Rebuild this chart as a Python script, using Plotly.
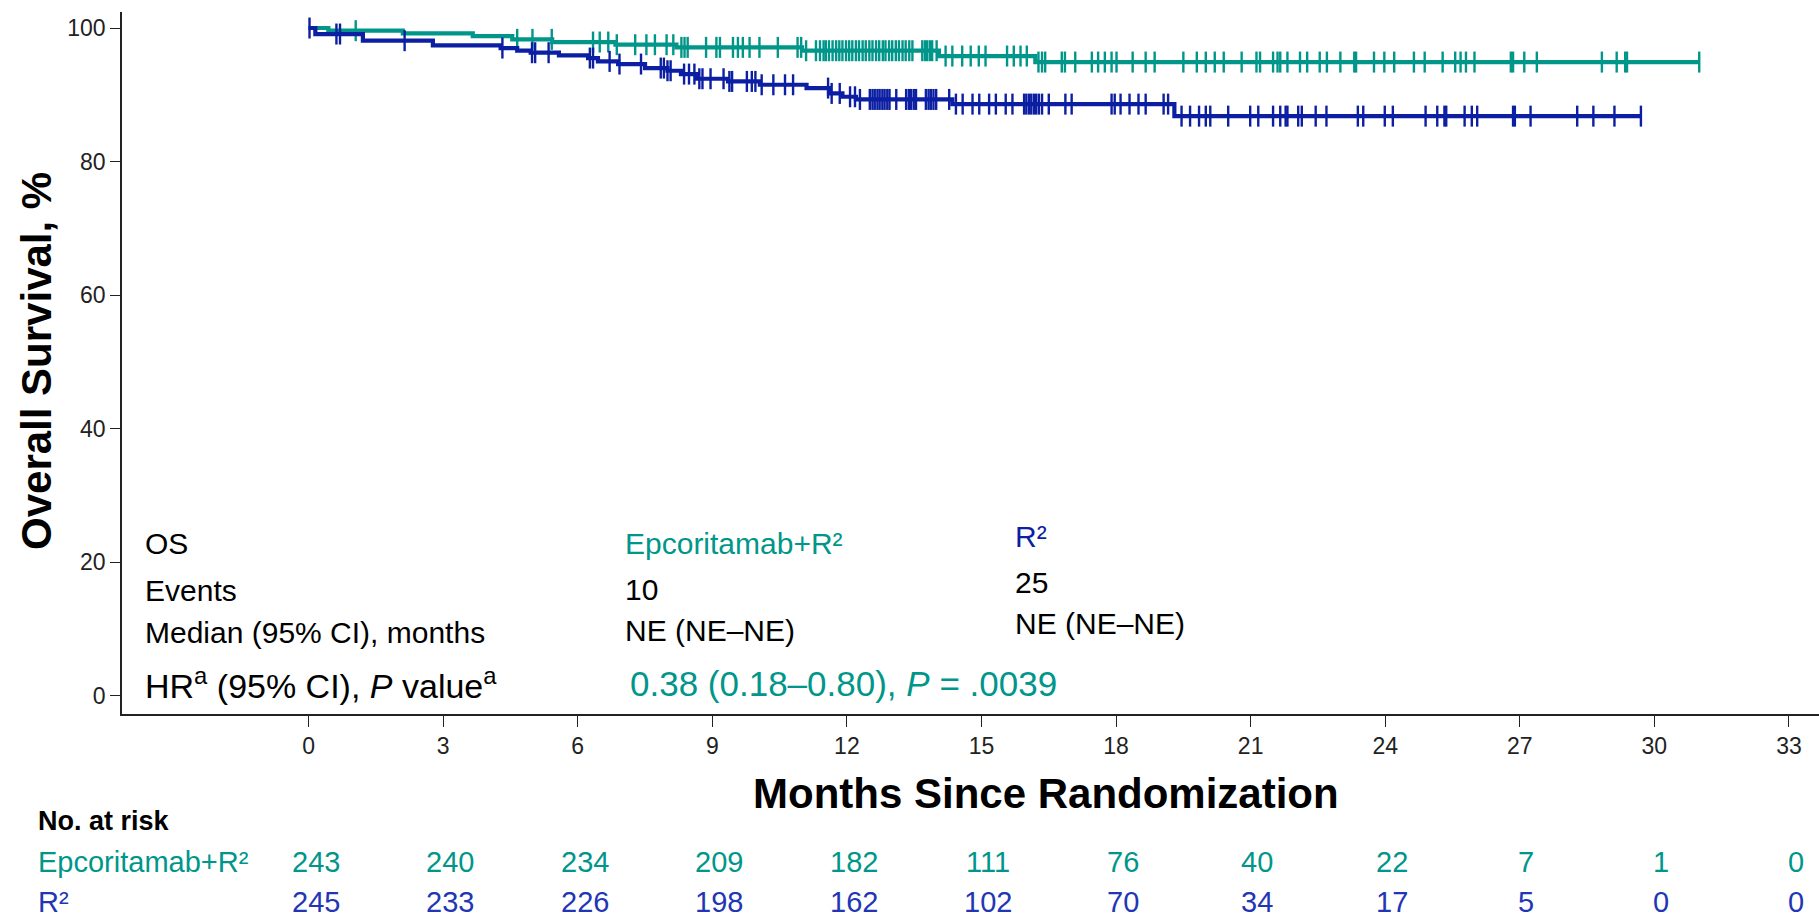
import plotly.graph_objects as go

# ---------------- data ----------------
# Kaplan-Meier step points (time in months, survival %)
teal_event_times = [0.44, 2.1, 3.66, 4.54, 5.43, 6.84, 8.2, 11.0, 14.05, 16.2]
teal_event_surv = [99.6, 99.2, 98.8, 98.3, 97.9, 97.5, 97.1, 96.6, 95.8, 94.9]
teal_end = 31.0

blue_event_times = [0.15, 1.21, 2.77, 4.28, 4.65, 4.95, 5.58, 6.23, 6.45, 6.9, 7.5, 8.0,
                    8.3, 8.66, 9.35, 10.06, 11.1, 11.6, 11.9, 12.2, 14.35, 19.3]
blue_event_surv = [99.1, 98.1, 97.4, 97.0, 96.6, 96.3, 95.9, 95.5, 95.0, 94.6, 94.0, 93.6,
                   93.1, 92.4, 92.0, 91.5, 91.0, 90.2, 89.7, 89.3, 88.6, 86.8]
blue_end = 29.7

teal_censor = [1.05, 4.65, 4.99, 5.42, 6.34, 6.49, 6.68, 6.87, 7.28, 7.53, 7.72, 7.98, 8.13,
               8.31, 8.38, 8.45, 8.86, 9.09, 9.17, 9.46, 9.57, 9.68, 9.83, 10.05, 10.46, 10.9,
               10.98, 11.09, 11.31, 11.4, 11.48, 11.53, 11.6, 11.68, 11.76, 11.83, 11.9, 11.98,
               12.05, 12.12, 12.2, 12.27, 12.35, 12.42, 12.5, 12.57, 12.65, 12.72, 12.8, 12.86,
               12.94, 13.01, 13.09, 13.16, 13.24, 13.31, 13.39, 13.46, 13.68, 13.74, 13.79,
               13.85, 13.9, 14.0, 14.2, 14.35, 14.57, 14.76, 14.94, 15.09, 15.57, 15.72, 15.87,
               16.01, 16.27, 16.35, 16.42, 16.79, 16.86, 17.09, 17.46, 17.6, 17.75, 17.9, 18.01,
               18.37, 18.66, 18.86, 19.5, 19.8, 20.0, 20.2, 20.4, 20.8, 21.13, 21.21, 21.5, 21.6,
               21.66, 21.82, 22.1, 22.26, 22.54, 22.7, 23.0, 23.31, 23.35, 23.75, 23.98, 24.2,
               24.64, 24.88, 25.28, 25.56, 25.68, 25.8, 25.99, 26.8, 26.85, 27.1, 27.38, 28.83,
               29.16, 29.35, 29.39, 31.0]

blue_censor = [0.02, 0.62, 0.70, 2.14, 4.32, 4.98, 5.05, 5.35, 6.27, 6.34, 6.71, 6.93, 7.41,
               7.85, 7.92, 8.0, 8.07, 8.37, 8.48, 8.6, 8.71, 8.78, 8.96, 9.25, 9.38, 9.44, 9.77,
               9.88, 9.96, 10.1, 10.36, 10.62, 10.8, 11.58, 11.66, 11.84, 12.07, 12.18, 12.29,
               12.51, 12.57, 12.62, 12.68, 12.73, 12.79, 12.84, 12.9, 12.95, 13.1, 13.32, 13.38,
               13.43, 13.49, 13.54, 13.76, 13.82, 13.87, 13.93, 13.99, 14.28, 14.43, 14.58, 14.8,
               14.95, 15.17, 15.32, 15.54, 15.69, 15.95, 16.0, 16.06, 16.11, 16.17, 16.22, 16.28,
               16.35, 16.5, 16.87, 17.01, 17.9, 17.97, 18.1, 18.3, 18.5, 18.66, 19.06, 19.16,
               19.46, 19.65, 19.85, 20.0, 20.1, 20.5, 20.99, 21.17, 21.5, 21.66, 21.78, 21.82,
               22.06, 22.14, 22.45, 22.69, 23.39, 23.51, 23.99, 24.17, 24.9, 25.16, 25.32, 25.36,
               25.77, 25.93, 26.05, 26.85, 26.89, 27.24, 28.28, 28.64, 29.11, 29.7]

risk_times = [0, 3, 6, 9, 12, 15, 18, 21, 24, 27, 30, 33]
risk_teal = [243, 240, 234, 209, 182, 111, 76, 40, 22, 7, 1, 0]
risk_blue = [245, 233, 226, 198, 162, 102, 70, 34, 17, 5, 0, 0]

y_ticks = [0, 20, 40, 60, 80, 100]
x_ticks = [0, 3, 6, 9, 12, 15, 18, 21, 24, 27, 30, 33]

TEAL = "#00968A"
BLUE = "#0C1FA3"
BLUE_TXT = "#2236B5"
FONT = "Arial, Liberation Sans, sans-serif"

# ---------------- geometry helpers ----------------
W, H = 1819, 919
ML, MR, MT, MB = 122, 0, 12, 205
PW, PH = W - ML - MR, H - MT - MB


def px_x(px):
    return (px - ML) / PW


def px_y(py):
    return (H - MB - py) / PH


def surv_at(t, times, surv):
    s = 100.0
    for tt, ss in zip(times, surv):
        if tt <= t:
            s = ss
    return s


fig = go.Figure()

for times, surv, end, cens, col in [
    (teal_event_times, teal_event_surv, teal_end, teal_censor, TEAL),
    (blue_event_times, blue_event_surv, blue_end, blue_censor, BLUE),
]:
    xs = [0] + times + [end]
    ys = [100] + surv + [surv[-1]]
    fig.add_trace(go.Scatter(x=xs, y=ys, mode="lines", line=dict(color=col, width=4.2, shape="hv"),
                             showlegend=False, hoverinfo="skip"))
    fig.add_trace(go.Scatter(x=cens, y=[surv_at(c, times, surv) for c in cens], mode="markers",
                             marker=dict(symbol="line-ns", size=15, line=dict(color=col, width=2.4)),
                             showlegend=False, hoverinfo="skip"))

fig.update_xaxes(range=[-4.16, 33.67], tickmode="array", tickvals=x_ticks,
                 ticktext=[str(v) for v in x_ticks], ticks="outside", ticklen=11, tickwidth=1.2,
                 tickcolor="#222", showline=True, linecolor="#222", linewidth=1.5, showgrid=False,
                 zeroline=False, tickfont=dict(family=FONT, size=23, color="#222"))
fig.update_yaxes(range=[-2.77, 102.4], tickmode="array", tickvals=y_ticks,
                 ticktext=[str(v) for v in y_ticks], ticks="outside", ticklen=10, tickwidth=1.2,
                 tickcolor="#222", showline=True, linecolor="#222", linewidth=1.5, showgrid=False,
                 zeroline=False, tickfont=dict(family=FONT, size=23, color="#222"))

ann = []


def add_text(text, px, py, size, color="black", xanchor="left", bold=False, angle=0):
    if bold:
        text = "<b>" + text + "</b>"
    ann.append(dict(text=text, x=px_x(px), y=px_y(py), xref="paper", yref="paper",
                    xanchor=xanchor, yanchor="middle", showarrow=False, textangle=angle,
                    font=dict(family=FONT, size=size, color=color)))


# Inset table
add_text("OS", 143, 543, 30)
add_text("Events", 143, 590, 30)
add_text("Median (95% CI), months", 143, 632, 30)
add_text("HR<sup>a</sup> (95% CI), <i>P</i> value<sup>a</sup>", 143, 683, 34)
add_text("Epcoritamab+R\u00b2", 623, 543, 30, TEAL)
add_text("10", 623, 589, 30)
add_text("NE (NE\u2013NE)", 623, 630, 30)
add_text("0.38 (0.18\u20130.80), <i>P</i> = .0039", 628, 683, 35, TEAL)
add_text("R\u00b2", 1013, 536, 30, BLUE)
add_text("25", 1013, 582, 30)
add_text("NE (NE\u2013NE)", 1013, 623, 30)

# Axis titles
add_text("Months Since Randomization", 1046, 793, 42, xanchor="center", bold=True)
add_text("Overall Survival, %", 36, 361, 42, xanchor="center", bold=True, angle=-90)

# Number at risk
add_text("No. at risk", 36, 821, 27, bold=True)
add_text("Epcoritamab+R\u00b2", 36, 862, 29, TEAL)
add_text("R\u00b2", 36, 902, 29, BLUE_TXT)
for t, a, b in zip(risk_times, risk_teal, risk_blue):
    xpx = 308.5 + t * 44.85 + 7
    add_text(str(a), xpx, 862, 29, TEAL, xanchor="center")
    add_text(str(b), xpx, 902, 29, BLUE_TXT, xanchor="center")

fig.update_layout(width=W, height=H, margin=dict(l=ML, r=MR, t=MT, b=MB),
                  paper_bgcolor="white", plot_bgcolor="white", annotations=ann,
                  font=dict(family=FONT))

fig.write_html("out.html")
